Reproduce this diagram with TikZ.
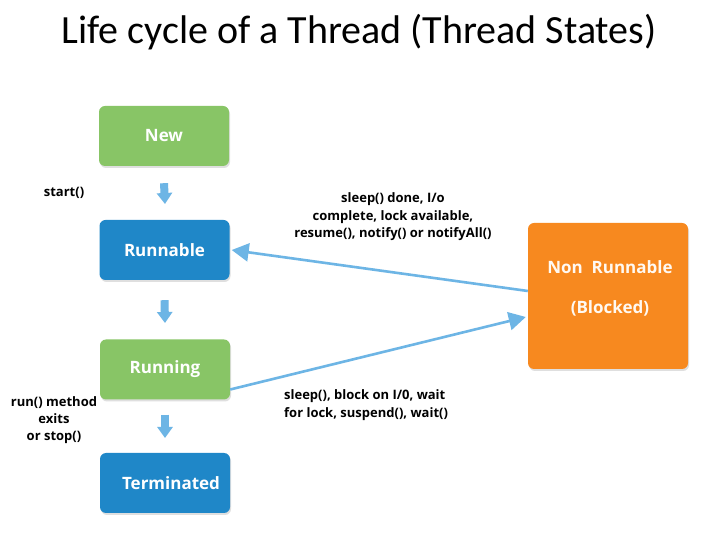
\documentclass[tikz,border=0pt]{standalone}
\usepackage{fontspec}
\setmainfont{Open Sans}
\newfontfamily\titlefont{Carlito}
\usetikzlibrary{arrows.meta}
\usetikzlibrary{shadows}

\definecolor{stategreen}{HTML}{88C566}
\definecolor{stateblue}{HTML}{1F87C8}
\definecolor{stateorange}{HTML}{F7891F}
\definecolor{arrowblue}{HTML}{6DB5E5}

\tikzset{
  state/.style={rectangle,rounded corners=6bp,draw=none,inner sep=0pt,
    minimum width=130bp,minimum height=60bp,text=white,
    font=\fontsize{17bp}{20bp}\selectfont\bfseries,
    drop shadow={shadow xshift=1bp,shadow yshift=-2bp,opacity=0.25}},
  steparrow/.style={arrowblue,line width=8bp,-{Triangle[width=15bp,length=11bp]}},
  longarrow/.style={arrowblue,line width=2.6bp,-{Triangle[width=18bp,length=17bp]}},
  transition/.style={draw=none,inner sep=0pt,align=center,
    font=\fontsize{13bp}{17.5bp}\selectfont\bfseries},
}

\begin{document}
\begin{tikzpicture}[>=latex,line join=bevel,]
\useasboundingbox [fill=white] (0bp,0bp) rectangle (720bp,540bp);
%%
\node (title) at (359bp,508bp) [draw=none,inner sep=0pt] {\titlefont\fontsize{40bp}{46bp}\selectfont Life cycle of a Thread (Thread States)};
%
\node (node_new) at (164bp,404bp) [state,fill=stategreen] {New};
  \node (node_runnable) at (164.5bp,290bp) [state,fill=stateblue] {Runnable};
  \node (node_running) at (165bp,170.5bp) [state,fill=stategreen] {Running};
  \node (node_terminated) at (165bp,57bp) [state,fill=stateblue] {\hspace*{12bp}Terminated};
  \node (node_blocked) at (608bp,244bp) [state,fill=stateorange,minimum width=160bp,minimum height=146bp] {};
  \node (text_blocked) at (610bp,252bp) [draw=none,inner sep=0pt,align=center,text=white!95!orange,
    font=\fontsize{17bp}{20bp}\selectfont\bfseries] {Non\ \ Runnable\\[20bp](Blocked)};
%
\node (label_start) at (64bp,347bp) [transition] {start()};
  \node (label_wake) at (393bp,323bp) [transition] {sleep() done, I/o\\complete, lock available,\\resume(), notify() or notifyAll()};
  \node (label_exit) at (54bp,120bp) [transition,font=\fontsize{13bp}{17bp}\selectfont\bfseries] {run() method\\exits\\or stop()};
  \node (label_block) at (284bp,135bp) [transition,anchor=west,align=left] {sleep(), block on I/0, wait\\for lock, suspend(), wait()};
%
\coordinate (c_0) at (165bp,336bp);
  \coordinate (c_1) at (165bp,217bp);
  \coordinate (c_2) at (165bp,102bp);
  \draw [steparrow] ([yshift=-17bp]node_new.south) -- (c_0);
  \draw [steparrow] ([yshift=-20bp]node_runnable.south) -- (c_1);
  \draw [steparrow] ([yshift=-15bp]node_running.south) -- (c_2);
  \draw [longarrow] (node_blocked.west |- 0,249bp) -- ([xshift=2bp,yshift=0bp]node_runnable.east);
  \draw [longarrow] ([yshift=-20bp]node_running.east) -- ([xshift=-2bp,yshift=-21bp]node_blocked.west);
%
\end{tikzpicture}
\end{document}
